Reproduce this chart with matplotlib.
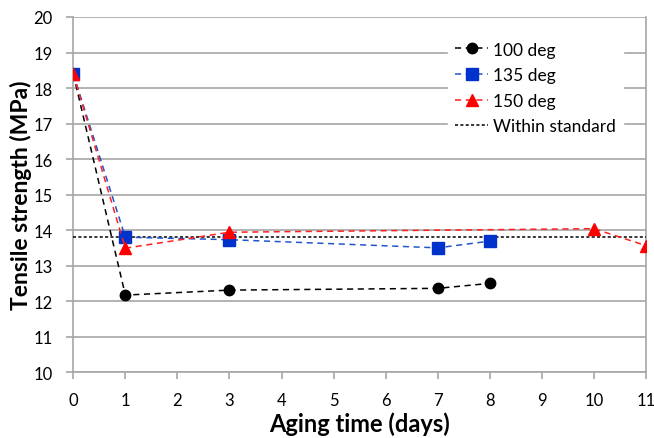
import matplotlib
matplotlib.use('Agg')
import matplotlib.pyplot as plt

plt.rcParams['font.family'] = ['Lato', 'DejaVu Sans']

days_100 = [0, 1, 3, 7, 8]
ts_100 = [18.4, 12.17, 12.31, 12.36, 12.5]

days_135 = [0, 1, 3, 7, 8]
ts_135 = [18.4, 13.8, 13.73, 13.5, 13.69]

days_150 = [0, 1, 3, 10, 11]
ts_150 = [18.4, 13.49, 13.94, 14.04, 13.56]

standard_x = [0, 11]
standard_y = [13.8, 13.8]

grid_col = '#a6a6a6'


def main():
    fig = plt.figure(figsize=(6.54, 4.39), dpi=100)
    ax = fig.add_axes([0.112, 0.150, 0.876, 0.809])

    ax.plot(days_100, ts_100, linestyle=(0, (4, 3)), color='black', lw=1.1,
            marker='o', ms=7.5, mfc='black', mec='black', label='100 deg', zorder=4)
    ax.plot(days_135, ts_135, linestyle=(0, (4, 3)), color='#2255cc', lw=1.1,
            marker='s', ms=8, mfc='#0033cc', mec='#0033cc', label='135 deg', zorder=4)
    ax.plot(days_150, ts_150, linestyle=(0, (4, 3)), color='#ff2020', lw=1.1,
            marker='^', ms=8, mfc='#ff0000', mec='#ff0000', label='150 deg', zorder=5)
    ax.plot(standard_x, standard_y, linestyle=(0, (2, 1.5)), color='black', lw=1.1,
            label='Within standard', zorder=3)

    ax.set_xlim(0, 11)
    ax.set_ylim(10, 20)
    ax.set_xticks(range(0, 12))
    ax.set_yticks(range(10, 21))
    ax.grid(axis='y', color=grid_col, lw=1.2, zorder=0)
    ax.set_axisbelow(True)

    for s in ['left', 'bottom', 'right']:
        ax.spines[s].set_color(grid_col)
        ax.spines[s].set_linewidth(1.2)
    ax.spines['top'].set_visible(False)
    ax.tick_params(axis='both', colors=grid_col, labelcolor='black',
                   labelsize=12, length=5, width=1.2, direction='out')
    ax.tick_params(axis='x', pad=9)
    ax.tick_params(axis='y', pad=10)

    ax.set_xlabel('Aging time (days)', fontsize=17, fontweight='bold', labelpad=3)
    ax.set_ylabel('Tensile strength (MPa)', fontsize=16.5, fontweight='bold', labelpad=1)

    leg = ax.legend(loc='upper right', bbox_to_anchor=(0.975, 0.975), frameon=True,
                    fontsize=12.5, handlelength=1.9, handletextpad=0.3,
                    labelspacing=0.55, borderpad=0.4)
    leg.get_frame().set_edgecolor('white')
    leg.get_frame().set_facecolor('white')
    leg.get_frame().set_alpha(1)

    fig.savefig('out.png', dpi=100)
    plt.close(fig)


if __name__ == '__main__':
    main()
